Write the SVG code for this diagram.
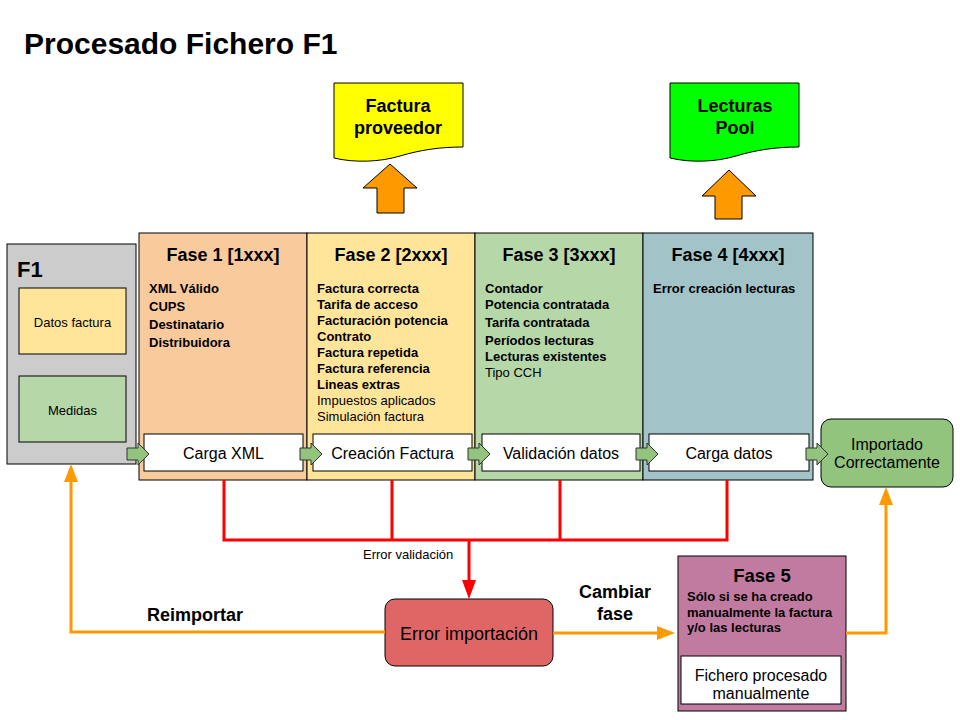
<svg xmlns="http://www.w3.org/2000/svg" width="960" height="720" viewBox="0 0 960 720">
<style>
text{font-family:"Liberation Sans",Arial,sans-serif;fill:#000}
.b{font-weight:bold}
.box{stroke:#000;stroke-width:1}
.hdr{font-size:18px;font-weight:bold;text-anchor:middle}
.it{font-size:13px;font-weight:bold}
.itr{font-size:13px}
.proc{fill:#fff;stroke:#000;stroke-width:1}
.pt{font-size:16px;text-anchor:middle}
.garrow{fill:#93c47d;stroke:#333;stroke-width:1}
.oarrow{fill:#ff9900;stroke:#000;stroke-width:1}
.red{fill:none;stroke:#ff0000;stroke-width:3}
.org{fill:none;stroke:#ff9900;stroke-width:3}
</style>
<defs>
<marker id="redHead" markerUnits="userSpaceOnUse" markerWidth="19" markerHeight="14" refX="10" refY="7" orient="auto">
<path d="M0,0 L19,7 L0,14 Z" fill="#ff0000"/>
</marker>
<marker id="orgHead" markerUnits="userSpaceOnUse" markerWidth="18" markerHeight="14" refX="8" refY="7" orient="auto">
<path d="M0,0 L18,7 L0,14 Z" fill="#ff9900"/>
</marker>
</defs>
<rect width="960" height="720" fill="#fff"/>
<text x="24" y="54" class="b" font-size="30">Procesado Fichero F1</text>

<g id="doc-factura">
<path d="M334,83 H463 V147 C440,147 420,150 400,156 C380,162 355,163 334,158 Z" fill="#ffff00" stroke="#000" stroke-width="1"/>
<text x="398" y="112" class="b" font-size="18" text-anchor="middle">Factura</text>
<text x="398" y="134" class="b" font-size="18" text-anchor="middle">proveedor</text>
</g>
<g id="doc-lecturas">
<path d="M670,83 H799 V147 C776,147 756,150 736,156 C716,162 691,163 670,158 Z" fill="#00ff00" stroke="#000" stroke-width="1"/>
<text x="735" y="112" class="b" font-size="18" text-anchor="middle">Lecturas</text>
<text x="735" y="134" class="b" font-size="18" text-anchor="middle">Pool</text>
</g>
<g id="up-arrow-1">
<polygon class="oarrow" points="390,164 417,188 404,188 404,213 377,213 377,188 363,188"/>
</g>
<g id="up-arrow-2">
<polygon class="oarrow" points="729,170 756,196 742,196 742,219 715,219 715,196 702,196"/>
</g>

<g id="f1">
<rect class="box" x="7" y="244" width="129" height="220" fill="#cccccc"/>
<text x="17" y="277" class="b" font-size="22">F1</text>
<rect class="box" x="19" y="288" width="107" height="66" fill="#ffe599"/>
<text x="72.5" y="327" font-size="13" text-anchor="middle">Datos factura</text>
<rect class="box" x="19" y="376" width="107" height="66" fill="#b6d7a8"/>
<text x="72.5" y="415" font-size="13" text-anchor="middle">Medidas</text>
</g>

<g id="fase1">
<rect class="box" x="139" y="233" width="168" height="247" fill="#f9cb9c"/>
<text x="223" y="261" class="hdr">Fase 1 [1xxx]</text>
<text x="149" y="293" class="it">XML Válido</text>
<text x="149" y="311" class="it">CUPS</text>
<text x="149" y="329" class="it">Destinatario</text>
<text x="149" y="347" class="it">Distribuidora</text>
<rect class="proc" x="144" y="434" width="159" height="37"/>
<text x="223.5" y="459" class="pt">Carga XML</text>
</g>
<g id="fase2">
<rect class="box" x="307" y="233" width="168" height="247" fill="#ffe599"/>
<text x="391" y="261" class="hdr">Fase 2 [2xxx]</text>
<text x="317" y="293" class="it">Factura correcta</text>
<text x="317" y="309" class="it">Tarifa de acceso</text>
<text x="317" y="325" class="it">Facturación potencia</text>
<text x="317" y="341" class="it">Contrato</text>
<text x="317" y="357" class="it">Factura repetida</text>
<text x="317" y="373" class="it">Factura referencia</text>
<text x="317" y="389" class="it">Lineas extras</text>
<text x="317" y="405" class="itr">Impuestos aplicados</text>
<text x="317" y="421" class="itr">Simulación factura</text>
<rect class="proc" x="313" y="434" width="159" height="37"/>
<text x="392.5" y="459" class="pt">Creación Factura</text>
</g>
<g id="fase3">
<rect class="box" x="475" y="233" width="168" height="247" fill="#b6d7a8"/>
<text x="559" y="261" class="hdr">Fase 3 [3xxx]</text>
<text x="485" y="293" class="it">Contador</text>
<text x="485" y="309" class="it">Potencia contratada</text>
<text x="485" y="327" class="it">Tarifa contratada</text>
<text x="485" y="345" class="it">Períodos lecturas</text>
<text x="485" y="361" class="it">Lecturas existentes</text>
<text x="485" y="377" class="itr">Tipo CCH</text>
<rect class="proc" x="482" y="434" width="158" height="37"/>
<text x="561" y="459" class="pt">Validación datos</text>
</g>
<g id="fase4">
<rect class="box" x="643" y="233" width="170" height="247" fill="#a2c4c9"/>
<text x="728" y="261" class="hdr">Fase 4 [4xxx]</text>
<text x="653" y="293" class="it">Error creación lecturas</text>
<rect class="proc" x="649" y="434" width="160" height="37"/>
<text x="729" y="459" class="pt">Carga datos</text>
</g>

<g id="importado">
<rect class="box" x="821" y="419" width="132" height="68" rx="10" fill="#93c47d"/>
<text x="887" y="450" class="pt">Importado</text>
<text x="887" y="468" class="pt">Correctamente</text>
</g>

<g id="error-importacion">
<rect class="box" x="385" y="599" width="168" height="67" rx="10" fill="#e06666"/>
<text x="469" y="640" font-size="18" text-anchor="middle">Error importación</text>
</g>

<g id="fase5">
<rect class="box" x="678" y="556" width="168" height="155" fill="#c27ba0"/>
<text x="762" y="582" class="b" font-size="18.5" text-anchor="middle">Fase 5</text>
<text x="687" y="601" class="it">Sólo si se ha creado</text>
<text x="687" y="617" class="it">manualmente la factura</text>
<text x="687" y="632" class="it">y/o las lecturas</text>
<rect class="proc" x="681" y="656" width="160" height="48"/>
<text x="761" y="681" class="pt">Fichero procesado</text>
<text x="761" y="699" class="pt">manualmente</text>
</g>

<g id="connectors">
<polygon class="garrow" points="127,448 138,448 138,443 149,454 138,465 138,460 127,460"/>
<polygon class="garrow" points="300,448 311,448 311,443 322,454 311,465 311,460 300,460"/>
<polygon class="garrow" points="468,448 479,448 479,443 490,454 479,465 479,460 468,460"/>
<polygon class="garrow" points="636,448 647,448 647,443 658,454 647,465 647,460 636,460"/>
<polygon class="garrow" points="806,448 817,448 817,443 828,454 817,465 817,460 806,460"/>

<path class="red" d="M224,480 V540 H727 V480 M392,480 V540 M560,480 V540"/>
<path class="red" d="M469,540 V590" marker-end="url(#redHead)"/>
<text x="363" y="559" font-size="13">Error validación</text>

<path class="org" d="M385,632 H71 V474" marker-end="url(#orgHead)"/>
<text x="147" y="621" class="b" font-size="18">Reimportar</text>

<path class="org" d="M553,633 H665" marker-end="url(#orgHead)"/>
<text x="615" y="598" class="b" font-size="18" text-anchor="middle">Cambiar</text>
<text x="615" y="620" class="b" font-size="18" text-anchor="middle">fase</text>

<path class="org" d="M846,633 H886 V497" marker-end="url(#orgHead)"/>
</g>
</svg>
